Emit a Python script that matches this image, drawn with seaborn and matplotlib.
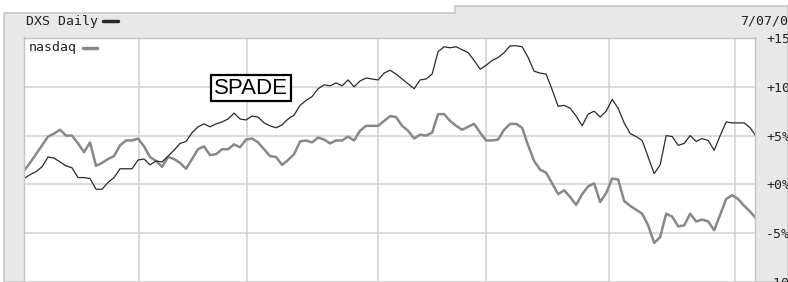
import numpy as np
import pandas as pd
import matplotlib
matplotlib.use("Agg")
import matplotlib.pyplot as plt
import seaborn as sns
from matplotlib.patches import Polygon
from matplotlib.lines import Line2D

# --- dados (variacao % desde o inicio, um valor por pregao) ---
nasdaq = [1.4, 2.2, 3.1, 4.0, 4.9, 5.2, 5.6, 5.0, 5.0, 4.2,
          3.3, 4.3, 1.9, 2.2, 2.6, 2.9, 4.0, 4.5, 4.5, 4.7,
          3.9, 2.8, 2.4, 1.8, 2.8, 2.6, 2.2, 1.6, 2.6, 3.6,
          3.9, 3.0, 3.1, 3.6, 3.6, 4.1, 3.8, 4.6, 4.7, 4.3,
          3.6, 2.9, 2.8, 2.0, 2.5, 3.1, 4.4, 4.5, 4.3, 4.8,
          4.6, 4.2, 4.5, 4.5, 4.9, 4.5, 5.5, 6.0, 6.0, 6.0,
          6.5, 7.0, 6.9, 6.0, 5.5, 4.7, 5.1, 5.0, 5.3, 7.2,
          7.2, 6.5, 6.0, 5.6, 5.9, 6.2, 5.3, 4.5, 4.5, 4.6,
          5.6, 6.2, 6.2, 5.8, 4.0, 2.4, 1.5, 1.2, 0.1, -1.0,
          -0.6, -1.3, -2.1, -1.0, -0.2, 0.1, -1.8, -0.9, 0.6, 0.5,
          -1.7, -2.2, -2.6, -3.0, -4.2, -6.0, -5.4, -3.0, -3.3, -4.3,
          -4.2, -3.0, -3.8, -3.6, -3.8, -4.7, -3.1, -1.5, -1.1, -1.5,
          -2.2, -2.8, -3.5]

dxs = [0.6, 1.0, 1.3, 1.8, 2.8, 2.7, 2.3, 1.9, 1.7, 0.7,
       0.7, 0.6, -0.5, -0.5, 0.2, 0.7, 1.6, 1.6, 1.6, 2.5,
       2.6, 2.0, 2.4, 2.3, 2.9, 3.5, 4.2, 4.4, 5.3, 5.9,
       6.2, 5.9, 6.2, 6.4, 6.7, 7.3, 6.7, 6.6, 7.0, 6.9,
       6.3, 6.0, 5.8, 6.1, 6.7, 7.1, 8.1, 8.6, 9.0, 9.8,
       10.2, 10.1, 10.4, 10.1, 10.7, 10.0, 10.6, 10.9, 10.8, 10.7,
       11.4, 11.7, 11.3, 10.8, 10.3, 9.8, 10.7, 10.8, 11.3, 13.6,
       14.1, 14.0, 14.1, 13.8, 13.5, 12.7, 11.8, 12.2, 12.7, 13.0,
       13.5, 14.2, 14.2, 14.1, 13.0, 11.6, 11.4, 11.3, 9.7, 8.0,
       8.1, 7.8, 7.0, 6.0, 7.2, 7.5, 6.9, 7.5, 8.7, 7.8,
       6.3, 5.2, 4.9, 4.5, 2.8, 1.1, 2.0, 5.0, 4.9, 4.0,
       4.2, 5.0, 4.4, 4.7, 4.5, 3.5, 5.0, 6.4, 6.3, 6.3,
       6.3, 5.8, 4.9]

# inicio de cada mes (indice do pregao) -> linhas verticais da grade
inicio_mes = [19.2, 37.2, 59, 77, 97.5, 118.5]
niveis_y = [15, 10, 5, 0, -5, -10]
rotulos_y = ["+15%", "+10%", "+5%", "+0%", "-5%", "-10%"]

dias = np.arange(len(nasdaq))
df = pd.DataFrame({"dia": dias, "nasdaq": nasdaq, "DXS": dxs})

W, H = 788, 282


def px(x, y):
    # pixel (origem no topo) -> fracao da figura
    return x / W, 1 - y / H


sns.set_style("white")
fig = plt.figure(figsize=(W / 100, H / 100), dpi=100, facecolor="white")

# moldura cinza do grafico
moldura = Polygon([px(4, 13), px(455, 13), px(455, 6), px(788, 6),
                   px(788, 282), px(4, 282)], closed=True,
                  transform=fig.transFigure, facecolor="#e8e8e8",
                  edgecolor="#c8c8c8", lw=1.2, zorder=-1)
fig.add_artist(moldura)

ax = fig.add_axes([24 / W, 0, 731 / W, (H - 37.5) / H])
ax.set_facecolor("white")

sns.lineplot(data=df, x="dia", y="nasdaq", ax=ax, color="#888888", lw=1.8)
sns.lineplot(data=df, x="dia", y="DXS", ax=ax, color="#2a2a2a", lw=0.9)

ax.set_xlim(0, 121.8)
ax.set_ylim(-9.95, 15.05)
ax.set_xticks(inicio_mes)
ax.set_xticklabels([])
ax.set_yticks(niveis_y)
ax.set_yticklabels(rotulos_y, family="DejaVu Sans Mono", fontsize=9.5,
                   color="#222222", ha="left")
ax.yaxis.tick_right()
ax.tick_params(axis="both", length=0)
ax.tick_params(axis="y", pad=8)
ax.set_xlabel("")
ax.set_ylabel("")
ax.grid(True, color="#d4d4d4", lw=1.2)
ax.set_axisbelow(True)
for lado in ax.spines.values():
    lado.set_color("#c4c4c4")
    lado.set_linewidth(1.0)

mono = dict(family="DejaVu Sans Mono", fontsize=9.5, color="#222222")
fig.text(*px(26, 21), "DXS Daily", va="center", ha="left", **mono)
fig.add_artist(Line2D([103 / W, 118 / W], [1 - 21 / H] * 2, color="#2a2a2a",
                      lw=2.5, transform=fig.transFigure))
fig.text(*px(740, 21), "7/07/06", va="center", ha="left", **mono)

fig.text(*px(29, 48), "nasdaq", va="center", ha="left", **mono)
fig.add_artist(Line2D([83 / W, 97 / W], [1 - 48 / H] * 2, color="#888888",
                      lw=2.5, transform=fig.transFigure))

fig.text(*px(251, 88), "SPADE", va="center", ha="center",
         family="Liberation Sans", fontsize=16, color="black",
         bbox=dict(boxstyle="square,pad=0.12", facecolor="white",
                   edgecolor="black", lw=1.6))

fig.savefig("out.png", dpi=100)
